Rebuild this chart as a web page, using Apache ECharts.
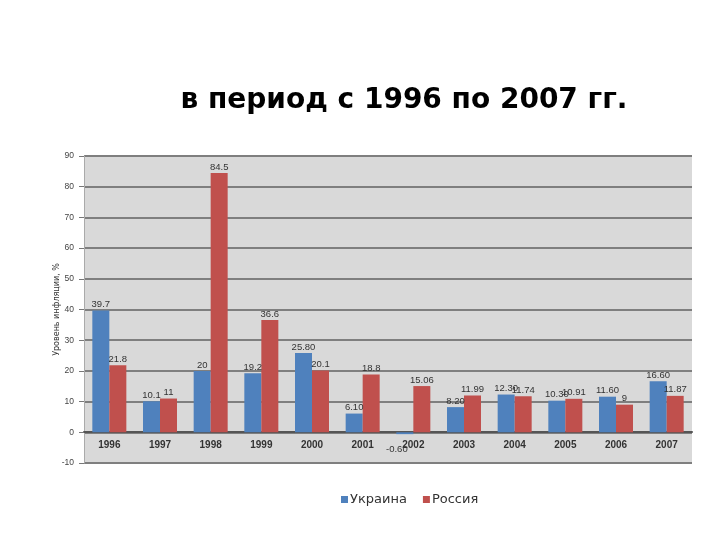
<!DOCTYPE html>
<html><head><meta charset="utf-8">
<script src="https://cdn.jsdelivr.net/npm/echarts@6/dist/echarts.min.js"></script>
<style>html,body{margin:0;padding:0;background:#fff}#c{width:720px;height:540px}</style>
</head><body><div id="c"></div>
<script>
const years = ['1996','1997','1998','1999','2000','2001','2002','2003','2004','2005','2006','2007'];
const ukraine = [39.7, 10.1, 20, 19.2, 25.80, 6.10, -0.60, 8.20, 12.30, 10.30, 11.60, 16.60];
const russia = [21.8, 11, 84.5, 36.6, 20.1, 18.8, 15.06, 11.99, 11.74, 10.91, 9, 11.87];
const ukraineLabels = ['39.7','10.1','20','19.2','25.80','6.10','-0.60','8.20','12.30','10.30','11.60','16.60'];
const russiaLabels = ['21.8','11','84.5','36.6','20.1','18.8','15.06','11.99','11.74','10.91','9','11.87'];

const chart = echarts.init(document.getElementById('c'), null, {renderer:'canvas'});
const lbl = {show:true, position:'top', distance:1, fontSize:9.5, color:'#333', fontFamily:'Liberation Sans, Arial, sans-serif'};
chart.setOption({
  animation:false,
  title:{text:'в период с 1996 по 2007 гг.', left:399, top:82, textAlign:'center',
    textStyle:{fontSize:28, fontWeight:'bold', color:'#000', fontFamily:'DejaVu Sans, sans-serif'}},
  legend:{bottom:29, left:336, itemWidth:7, itemHeight:7, itemGap:16, itemStyle:{borderWidth:0}, icon:'rect',
    textStyle:{fontSize:13, color:'#333', fontFamily:'DejaVu Sans, sans-serif', padding:[0,0,0,-3]},
    data:['Украина','Россия']},
  grid:{left:84, right:28, top:156, bottom:77, show:true, backgroundColor:'#d9d9d9', borderWidth:0},
  xAxis:{type:'category', data:years, offset:-31,
    axisLine:{onZero:false, lineStyle:{color:'#555', width:2}},
    axisTick:{show:false},
    axisLabel:{fontSize:10, fontWeight:'bold', color:'#333', margin:8, fontFamily:'Liberation Sans, Arial, sans-serif'}},
  yAxis:{type:'value', min:-10, max:90, interval:10,
    name:'Уровень инфляции, %', nameLocation:'middle', nameGap:23, nameRotate:90, nameMoveOverlap:false,
    nameTextStyle:{fontSize:8, color:'#333', fontFamily:'DejaVu Sans, sans-serif'},
    axisLine:{show:true, lineStyle:{color:'#aaa', width:1}},
    axisTick:{show:true, length:5, lineStyle:{color:'#777'}},
    axisLabel:{fontSize:8.5, color:'#444', margin:10, fontFamily:'Liberation Sans, Arial, sans-serif'},
    splitLine:{lineStyle:{color:'#7f7f7f', width:2}}},
  series:[
    {name:'Украина', type:'bar', barWidth:17, barGap:'0%',
      itemStyle:{color:'#4f81bd'},
      data:ukraine.map((v,i)=>({value:v, label: v<0 ? {position:'bottom', offset:[-8,9]} : {}})),
      label:Object.assign({}, lbl, {formatter:p=>ukraineLabels[p.dataIndex]})},
    {name:'Россия', type:'bar', barWidth:17,
      itemStyle:{color:'#c0504d'},
      data:russia,
      label:Object.assign({}, lbl, {formatter:p=>russiaLabels[p.dataIndex]})}
  ]
});
</script></body></html>
